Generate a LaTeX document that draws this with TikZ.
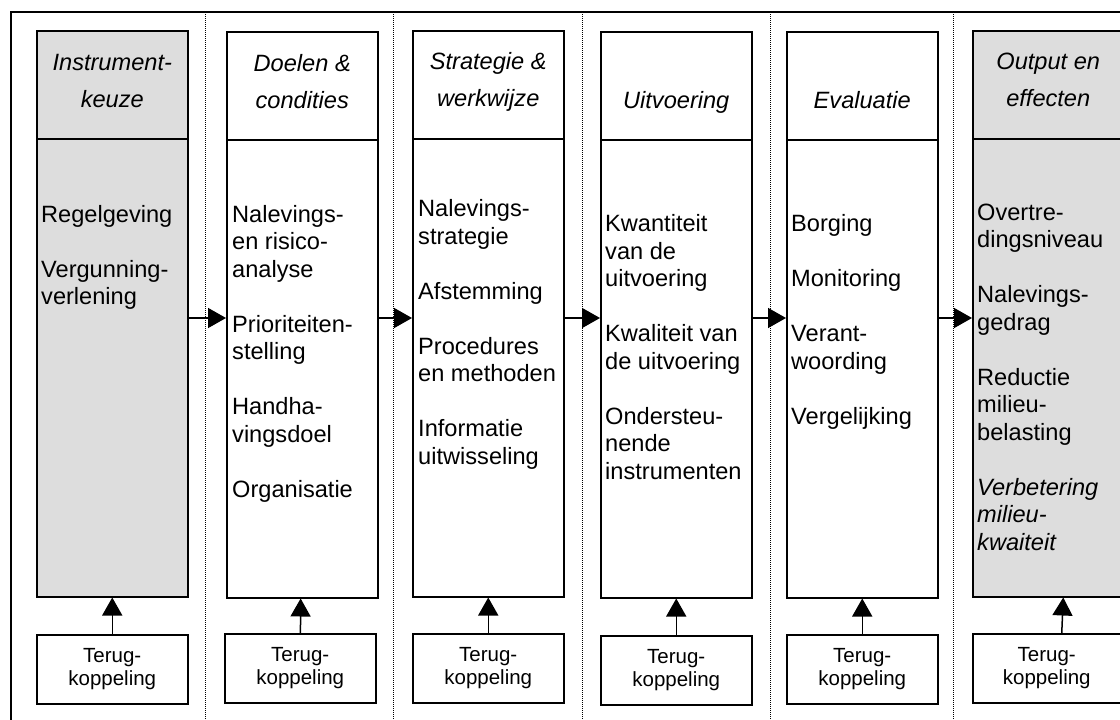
\documentclass[tikz,border=0pt]{standalone}
\usepackage{fontspec}
\setmainfont{Liberation Sans}
\usetikzlibrary{arrows.meta}
\definecolor{boxgray}{RGB}{221,221,221}
\newcommand{\colbodyfont}{\fontsize{23.6}{27.5}\selectfont}
\newcommand{\colheadfont}{\fontsize{23.6}{37}\selectfont\itshape}
\newcommand{\feedbackfont}{\fontsize{20.5}{22.5}\selectfont}
\tikzset{
	colbox/.style={draw, line width=1.5pt, minimum width=151pt, minimum height=566pt, anchor=north west, inner sep=0pt},
	fbbox/.style={draw, line width=1.5pt, minimum width=151pt, minimum height=69pt, anchor=north west, inner sep=0pt, align=center, font=\feedbackfont},
	headtext/.style={align=center, font=\colheadfont, anchor=base, inner sep=0pt},
	bodytext/.style={align=left, font=\colbodyfont, anchor=base west, inner sep=0pt},
	sepline/.style={line width=1pt, dash pattern=on 1pt off 1pt},
	flow/.style={line width=1.5pt, -{Triangle[length=18pt,width=20pt]}}
}
\begin{document}
\begin{tikzpicture}[x=1pt, y=-1pt]
			%%%%% START %%%%%
			\useasboundingbox (0,0) rectangle (1120,720);
			\clip (0,0) rectangle (1120,720);
			
			% frame and separators
			\draw[line width=1.5pt] (11,12) rectangle (1140,740);
			\draw[sepline] (205,12) -- (205,720);
			\draw[sepline] (393,12) -- (393,720);
			\draw[sepline] (582,12) -- (582,720);
			\draw[sepline] (770,12) -- (770,720);
			\draw[sepline] (953,12) -- (953,720);
			
			% columns
			\node[colbox, fill=boxgray] (col1) at (36,30) {};
			\node[colbox] (col2) at (226,31) {};
			\node[colbox] (col3) at (412,30) {};
			\node[colbox] (col4) at (600,31) {};
			\node[colbox] (col5) at (786,31) {};
			\node[colbox, fill=boxgray] (col6) at (972,30) {};
			
			\draw[line width=1.5pt] (col1.west |- 0,139) -- (col1.east |- 0,139);
			\draw[line width=1.5pt] (col2.west |- 0,140) -- (col2.east |- 0,140);
			\draw[line width=1.5pt] (col3.west |- 0,139) -- (col3.east |- 0,139);
			\draw[line width=1.5pt] (col4.west |- 0,140) -- (col4.east |- 0,140);
			\draw[line width=1.5pt] (col5.west |- 0,140) -- (col5.east |- 0,140);
			\draw[line width=1.5pt] (col6.west |- 0,139) -- (col6.east |- 0,139);
			
			% headers (anchored on last line)
			\node[headtext] (head1) at (col1.north |- 0,107) {Instrument-\\keuze};
			\node[headtext] (head2) at (col2.north |- 0,108) {Doelen \&\\condities};
			\node[headtext] (head3) at (col3.north |- 0,106) {Strategie \&\\werkwijze};
			\node[headtext] (head4) at (col4.north |- 0,108) {Uitvoering};
			\node[headtext] (head5) at (col5.north |- 0,108) {Evaluatie};
			\node[headtext] (head6) at (col6.north |- 0,106) {Output en\\effecten};
			
			% contents (anchored on last line)
			\node[bodytext] (body1) at ([xshift=5pt]col1.west |- 0,304.5) {Regelgeving\\[27.5pt]Vergunning-\\verlening};
			\node[bodytext] (body2) at ([xshift=6pt]col2.west |- 0,497) {Nalevings-\\en risico-\\analyse\\[27.5pt]Prioriteiten-\\stelling\\[27.5pt]Handha-\\vingsdoel\\[27.5pt]Organisatie};
			\node[bodytext] (body3) at ([xshift=6pt]col3.west |- 0,464) {Nalevings-\\strategie\\[27.5pt]Afstemming\\[27.5pt]Procedures\\en methoden\\[27.5pt]Informatie\\uitwisseling};
			\node[bodytext] (body4) at ([xshift=5pt]col4.west |- 0,479) {Kwantiteit\\van de\\uitvoering\\[27.5pt]Kwaliteit van\\de uitvoering\\[27.5pt]Ondersteu-\\nende\\instrumenten};
			\node[bodytext] (body5) at ([xshift=5pt]col5.west |- 0,424) {Borging\\[27.5pt]Monitoring\\[27.5pt]Verant-\\woording\\[27.5pt]Vergelijking};
			\node[bodytext] (body6) at ([xshift=5pt]col6.west |- 0,550) {Overtre-\\dingsniveau\\[27.5pt]Nalevings-\\gedrag\\[27.5pt]Reductie\\milieu-\\belasting\\[27.5pt]\textit{Verbetering}\\\textit{milieu-}\\\textit{kwaiteit}};
			
			% feedback
			\node[fbbox] (fb1) at (36,634) {Terug-\\koppeling};
			\node[fbbox] (fb2) at (224,633) {Terug-\\koppeling};
			\node[fbbox] (fb3) at (412,633) {Terug-\\koppeling};
			\node[fbbox] (fb4) at (600,635) {Terug-\\koppeling};
			\node[fbbox] (fb5) at (786,634) {Terug-\\koppeling};
			\node[fbbox, minimum width=148pt] (fb6) at (972,633) {Terug-\\koppeling};
			
			\draw[flow] (fb1) -- (col1);
			\draw[flow] (fb2) -- (col2);
			\draw[flow] (fb3) -- (col3);
			\draw[flow] (fb4) -- (col4);
			\draw[flow] (fb5) -- (col5);
			\draw[flow] ([xshift=15pt]fb6.north) -- ([xshift=15pt]col6.south);
			
			% flow between columns
			\coordinate (flowrow) at (0,318);
			\draw[flow] (col1.east |- flowrow) -- (col2.west |- flowrow);
			\draw[flow] (col2.east |- flowrow) -- (col3.west |- flowrow);
			\draw[flow] (col3.east |- flowrow) -- (col4.west |- flowrow);
			\draw[flow] (col4.east |- flowrow) -- (col5.west |- flowrow);
			\draw[flow] (col5.east |- flowrow) -- (col6.west |- flowrow);
			
			%%%%% END %%%%%
		\end{tikzpicture}
\end{document}
